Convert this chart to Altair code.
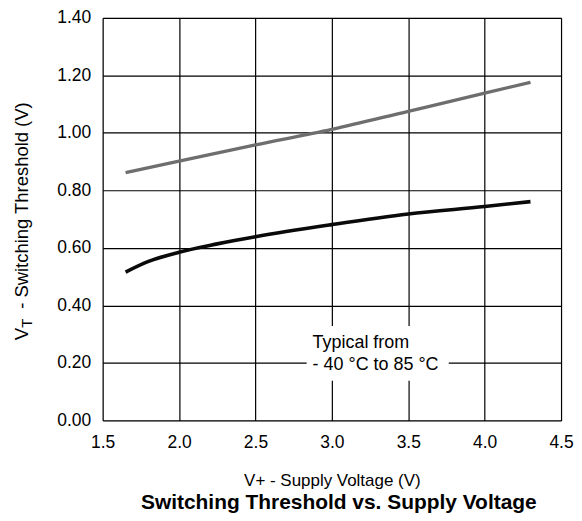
import altair as alt
import pandas as pd

# ---- data ----
voltage_gray = [1.65, 2.0, 2.5, 3.0, 3.5, 4.0, 4.3]
threshold_gray = [0.862, 0.902, 0.958, 1.012, 1.075, 1.138, 1.176]

voltage_black = [1.65, 1.8, 2.0, 2.25, 2.5, 3.0, 3.5, 4.0, 4.3]
threshold_black = [0.516, 0.553, 0.585, 0.614, 0.639, 0.681, 0.718, 0.744, 0.761]

x_ticks = [1.5, 2.0, 2.5, 3.0, 3.5, 4.0, 4.5]
y_ticks = [0.0, 0.2, 0.4, 0.6, 0.8, 1.0, 1.2, 1.4]

note_lines = ["Typical from", "- 40 °C to 85 °C"]
note_x = [2.874, 2.874]
note_y = [0.251, 0.176]
note_box_x = [2.835]
note_box_x2 = [3.765]
note_box_y = [0.138]
note_box_y2 = [0.328]

FONT = "Liberation Sans"

gray_df = pd.DataFrame({"v": voltage_gray, "vt": threshold_gray})
black_df = pd.DataFrame({"v": voltage_black, "vt": threshold_black})
note_df = pd.DataFrame({"v": note_x, "vt": note_y, "label": note_lines})
box_df = pd.DataFrame({"v": note_box_x, "v2": note_box_x2, "vt": note_box_y, "vt2": note_box_y2})

xscale = alt.Scale(domain=[1.5, 4.5], nice=False, zero=False)
yscale = alt.Scale(domain=[0.0, 1.4], nice=False, zero=False)

xaxis = alt.Axis(values=x_ticks, format=".1f", title="V+ - Supply Voltage (V)",
                 labelFontSize=17.5, titleFontSize=17, titleFontWeight="normal",
                 labelPadding=13, titlePadding=22, ticks=False, domain=False,
                 labelFont=FONT, titleFont=FONT, labelColor="black", titleColor="black",
                 grid=True, gridColor="black", gridWidth=1.2, labelFlush=False)
yaxis = alt.Axis(values=y_ticks, format=".2f", title=None,
                 labelFontSize=17.5, labelPadding=12, ticks=False, domain=False,
                 labelFont=FONT, labelColor="black",
                 grid=True, gridColor="black", gridWidth=1.2, labelFlush=False)

gray_line = alt.Chart(gray_df).mark_line(color="#6e6e6e", strokeWidth=3.3, interpolate="monotone").encode(
    x=alt.X("v:Q", scale=xscale, axis=xaxis),
    y=alt.Y("vt:Q", scale=yscale, axis=yaxis),
)
black_line = alt.Chart(black_df).mark_line(color="#0a0a0a", strokeWidth=3.6, interpolate="monotone").encode(
    x=alt.X("v:Q"),
    y=alt.Y("vt:Q"),
)
box = alt.Chart(box_df).mark_rect(color="white").encode(
    x="v:Q", x2="v2:Q", y="vt:Q", y2="vt2:Q"
)
note = alt.Chart(note_df).mark_text(align="left", baseline="alphabetic", fontSize=18,
                                    font=FONT, color="black").encode(
    x="v:Q", y="vt:Q", text="label:N"
)

# y axis title with subscript, as rotated text
yt_main = alt.Chart(pd.DataFrame({"t": ["- Switching Threshold (V)"]})).mark_text(
    angle=270, align="left", baseline="alphabetic", fontSize=18.5, font=FONT, color="black"
).encode(x=alt.value(-74.7), y=alt.value(292), text="t:N")
yt_v = alt.Chart(pd.DataFrame({"t": ["V"]})).mark_text(
    angle=270, align="left", baseline="alphabetic", fontSize=18.5, font=FONT, color="black"
).encode(x=alt.value(-74.7), y=alt.value(323.5), text="t:N")
yt_sub = alt.Chart(pd.DataFrame({"t": ["T"]})).mark_text(
    angle=270, align="left", baseline="alphabetic", fontSize=15, font=FONT, color="black"
).encode(x=alt.value(-70.7), y=alt.value(311), text="t:N")

chart = alt.layer(gray_line, black_line, box, note, yt_main, yt_v, yt_sub).properties(
    width=460,
    height=404,
    padding={"left": 95, "top": 9, "right": 13, "bottom": 92},
    autosize=alt.AutoSizeParams(type="none"),
    title=alt.TitleParams(text="Switching Threshold vs. Supply Voltage", orient="bottom",
                          anchor="middle", fontSize=21, fontWeight="bold", font=FONT,
                          color="black", offset=3, dx=7),
).configure_view(stroke="black", strokeWidth=2.2).configure(background="white")

chart.save("out.html", embed_options={"renderer": "svg", "actions": False})
